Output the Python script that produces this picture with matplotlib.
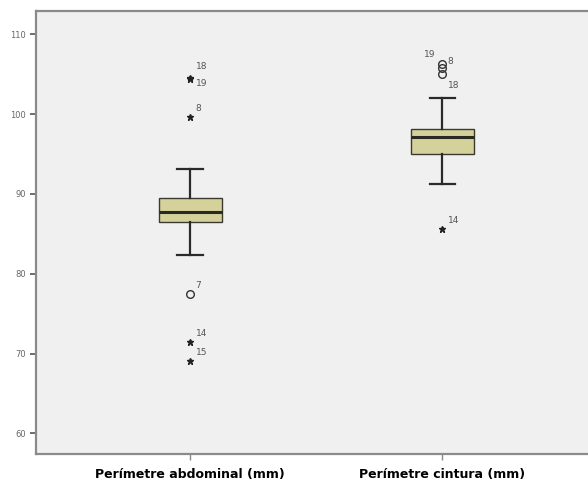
import matplotlib.pyplot as plt

labels = ["Perímetre abdominal (mm)", "Perímetre cintura (mm)"]
q1 = [86.5, 95.0]
med = [87.75, 97.1]
q3 = [89.5, 98.1]
whislo = [82.4, 91.3]
whishi = [93.1, 102.0]

# outliers: (box index, value, case id)
mild = [(0, 77.4, "7"), (1, 106.25, "19"), (1, 105.75, "8"), (1, 105.0, "18")]
extreme = [(0, 104.5, "18"), (0, 104.45, "19"), (0, 99.6, "8"),
           (0, 71.4, "14"), (0, 69.0, "15"), (1, 85.6, "14")]

# label offsets in points, per (box, id)
label_offsets = {
    (0, "18"): (4, 5), (0, "19"): (4, -7), (0, "8"): (4, 3),
    (0, "7"): (4, 3), (0, "14"): (4, 3), (0, "15"): (4, 3),
    (1, "19"): (-13, 4), (1, "8"): (4, 2), (1, "18"): (4, -11),
    (1, "14"): (4, 3),
}

fig = plt.figure(figsize=(5.88, 4.86), dpi=100)
fig.patch.set_facecolor("white")
ax = fig.add_axes([0.0612, 0.0658, 0.939, 0.911])
ax.set_facecolor("#f0f0f0")

stats = []
for i in range(len(labels)):
    stats.append(dict(med=med[i], q1=q1[i], q3=q3[i], whislo=whislo[i],
                      whishi=whishi[i], fliers=[], label=labels[i]))

ax.bxp(stats, positions=[1, 2], widths=0.25, showfliers=False,
       patch_artist=True, capwidths=0.1,
       boxprops=dict(facecolor="#d5d19b", edgecolor="#3a3a30", linewidth=1.0),
       medianprops=dict(color="#2a2a22", linewidth=2.2),
       whiskerprops=dict(color="#2a2a2a", linewidth=1.6),
       capprops=dict(color="#2a2a2a", linewidth=1.6))

for b, v, cid in mild:
    ax.plot(b + 1, v, marker="o", markersize=5.5, markerfacecolor="none",
            markeredgecolor="#333333", markeredgewidth=1.0, linestyle="none")
for b, v, cid in extreme:
    ax.plot(b + 1, v, marker="*", markersize=4.5, color="#222222",
            linestyle="none")

for b, v, cid in mild + extreme:
    dx, dy = label_offsets[(b, cid)]
    ax.annotate(cid, (b + 1, v), xytext=(dx, dy), textcoords="offset points",
                fontsize=6.5, color="#555555", ha="left", va="bottom")

ax.set_xlim(0.389, 2.579)
ax.set_ylim(57.4, 112.9)
ax.set_yticks([60, 70, 80, 90, 100, 110])
ax.set_xticks([1, 2])
ax.set_xticklabels(labels, fontweight="bold", fontsize=9,
                   family=["Liberation Sans Narrow", "DejaVu Sans"])
ax.tick_params(axis="y", labelsize=6, labelcolor="#666666", color="#555555",
               length=4, width=1.2)
ax.tick_params(axis="x", color="#888888", length=4, width=1, pad=6)

for side in ["left", "top", "bottom"]:
    ax.spines[side].set_color("#8a8a8a")
    ax.spines[side].set_linewidth(1.6)
ax.spines["right"].set_visible(False)

fig.savefig("out.png", dpi=100)
